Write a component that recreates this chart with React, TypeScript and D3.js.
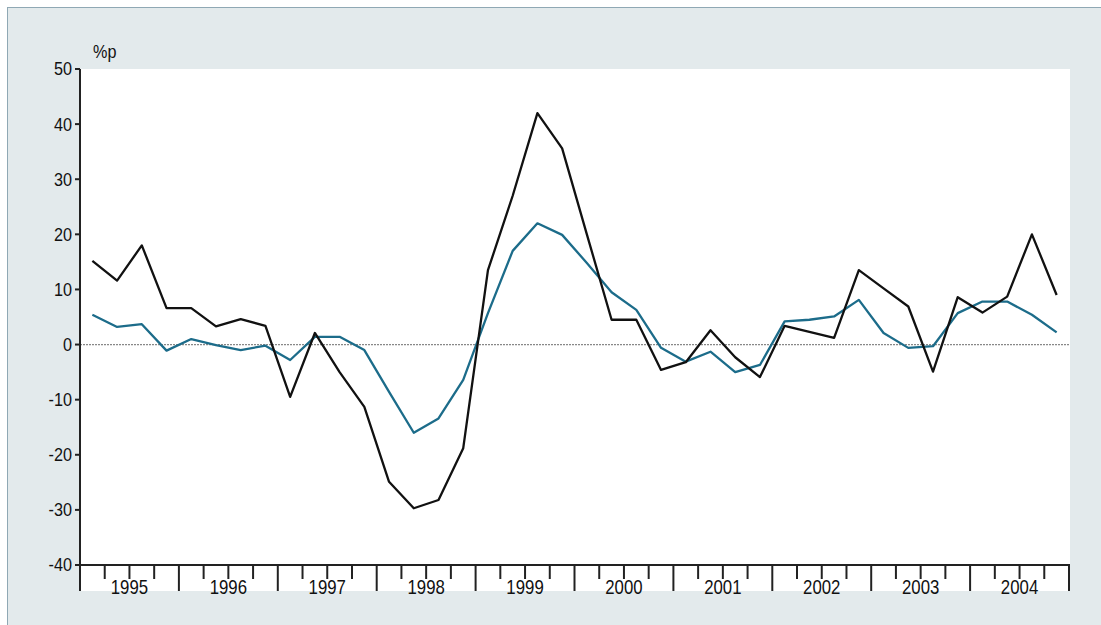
import React from "react";
import * as d3 from "d3";

const years = ["1995", "1996", "1997", "1998", "1999", "2000", "2001", "2002", "2003", "2004"];
const yTicks = [50, 40, 30, 20, 10, 0, -10, -20, -30, -40];
const seriesBlack = [15.2, 11.6, 18, 6.6, 6.6, 3.3, 4.6, 3.4, -9.5, 2.1, -5, -11.3, -24.9, -29.7, -28.2, -18.8, 13.5, 27, 42, 35.6, 20, 4.5, 4.5, -4.6, -3.2, 2.6, -2.3, -5.9, 3.4, 2.3, 1.2, 13.5, 10.2, 6.9, -4.9, 8.6, 5.8, 8.7, 20, 9];
const seriesBlue = [5.4, 3.2, 3.7, -1.1, 1.0, -0.1, -1.0, -0.2, -2.8, 1.4, 1.4, -1.0, -8.6, -16, -13.4, -6.4, 5.7, 17, 22, 19.9, 14.8, 9.5, 6.3, -0.6, -3.1, -1.3, -5.0, -3.7, 4.2, 4.5, 5.1, 8.1, 2.1, -0.6, -0.3, 5.7, 7.8, 7.8, 5.4, 2.2];

export default function App() {
  const W = 1101, H = 625;
  const left = 80, right = 1069, top = 69, bottom = 565;
  const nQ = years.length * 4;
  const x = d3.scaleLinear().domain([0, nQ]).range([left, right]);
  const y = d3.scaleLinear().domain([-40, 50]).range([bottom, top]);
  const line = d3.line<number>().x((_, i) => x(i + 0.5)).y((d) => y(d));
  const font = "'Liberation Sans', Arial, sans-serif";
  const qTicks = d3.range(0, nQ + 1);
  return (
    <svg width={W} height={H} style={{ position: "absolute", left: 0, top: 0 }}>
      <rect x={7} y={7} width={W - 7} height={H - 7} fill="#e3eaec" />
      <line x1={7} y1={7.5} x2={W} y2={7.5} stroke="#8fa8b4" strokeWidth={1} />
      <line x1={7.5} y1={7} x2={7.5} y2={H} stroke="#8fa8b4" strokeWidth={1} />
      <rect x={left} y={top} width={right + 1 - left} height={591 - top} fill="#ffffff" />
      <line x1={left} x2={right} y1={y(0)} y2={y(0)} stroke="#888" strokeWidth={1.2} strokeDasharray="2,1" />
      <path d={line(seriesBlue) || ""} fill="none" stroke="#1c6c8a" strokeWidth={2.3} strokeLinejoin="round" />
      <path d={line(seriesBlack) || ""} fill="none" stroke="#111" strokeWidth={2.3} strokeLinejoin="round" />
      {/* y axis */}
      <line x1={left} x2={left} y1={top} y2={591} stroke="#222" strokeWidth={2} />
      {yTicks.map((t) => (
        <g key={t}>
          <line x1={left - 5} x2={left} y1={y(t)} y2={y(t)} stroke="#222" strokeWidth={2} />
          <text transform={`translate(${left - 8},${y(t)}) scale(0.9,1)`} dy="0.36em" textAnchor="end" fontFamily={font} fontSize={18} fill="#111">{t}</text>
        </g>
      ))}
      <text transform="translate(93,58) scale(0.9,1)" fontFamily={font} fontSize={18} fill="#111">%p</text>
      {/* x axis */}
      <line x1={left} x2={right + 1} y1={bottom} y2={bottom} stroke="#222" strokeWidth={2} />
      {qTicks.map((q) => (
        <line key={q} x1={x(q)} x2={x(q)} y1={bottom} y2={q % 4 === 0 ? 591 : 579} stroke="#222" strokeWidth={2} />
      ))}
      {years.map((yr, i) => (
        <text key={yr} transform={`translate(${x(i * 4 + 2)},594) scale(0.84,1)`} textAnchor="middle" fontFamily={font} fontSize={20} fill="#111">{yr}</text>
      ))}
    </svg>
  );
}
